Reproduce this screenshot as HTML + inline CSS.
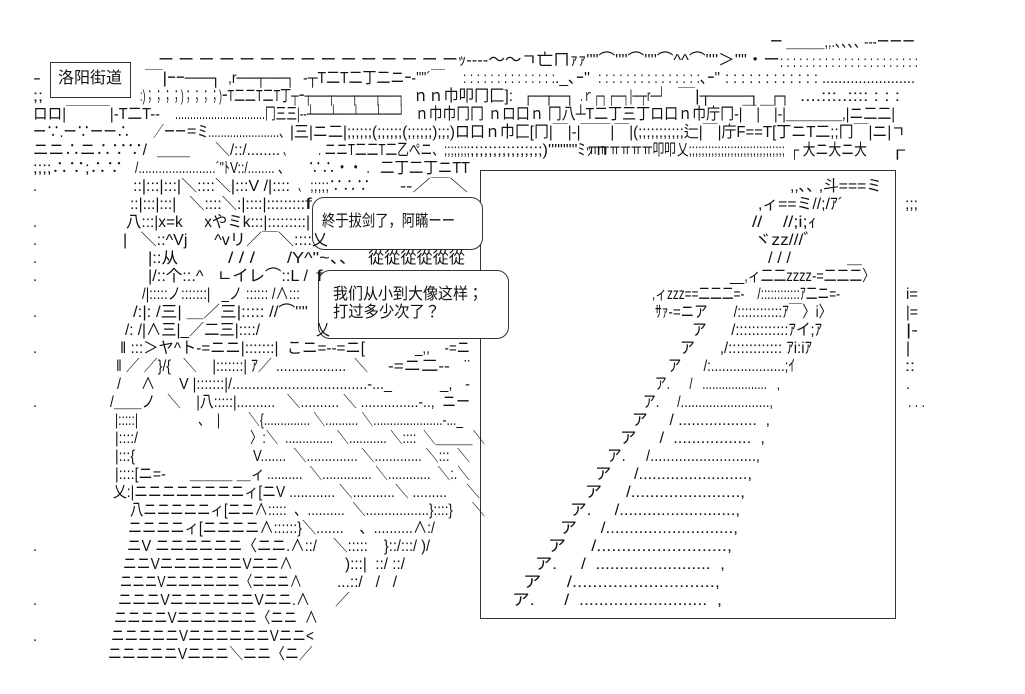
<!DOCTYPE html>
<html><head><meta charset="utf-8">
<style>
html,body{margin:0;padding:0;background:#fff;}
body{width:1025px;height:694px;position:relative;overflow:hidden;}
p{position:absolute;margin:0;height:18px;line-height:18px;font-size:16px;white-space:pre;color:#111;
font-family:"Liberation Sans","Noto Sans CJK JP","Noto Sans CJK SC",sans-serif;}
p span{display:inline-block;transform-origin:0 0;}
.bx{position:absolute;border:1px solid #333;}
</style></head><body>

<div class="bx" style="left:50px;top:62px;width:79px;height:34px;"></div>
<div class="bx" style="left:480px;top:170px;width:414px;height:447px;border-style:solid;"></div>
<div class="bx" style="left:312px;top:197px;width:169px;height:51px;border-radius:12px;background:#fff;"></div>
<div class="bx" style="left:318px;top:270px;width:189px;height:67px;border-radius:12px;background:#fff;"></div>

<p style="left:770px;top:34px;width:145px"><span>ー ＿＿＿,,.､､､､ ---ーーー</span></p>

<p style="left:158px;top:52px;width:300px"><span>ー ー ー ー ー ー ー ー ー ー ー ー ー ー ー</span></p>
<p style="left:458px;top:52px;width:322px"><span>ｯ----～～ㄱ亡ㄇｧｧ''"⌒''''⌒''''⌒^^⌒''''＞''"・ー</span></p>
<p style="left:780px;top:54px;width:138px"><span>: : : : : : : : : : : : : : : : : : : : : :</span></p>

<p style="left:33px;top:70px;width:8px"><span>-</span></p>
<p style="left:58px;top:70px;width:64px"><span>洛阳街道</span></p>
<p style="left:145px;top:70px;width:77px"><span>￣|ｰｰ──┐</span></p>
<p style="left:228px;top:70px;width:67px"><span>,r──┬──┐</span></p>
<p style="left:303px;top:70px;width:142px"><span>-┬T二T二丁二ニｰ-''"´￣</span></p>
<p style="left:463px;top:70px;width:92px"><span>: : : : : : : : : : : : : :</span></p>
<p style="left:555px;top:70px;width:35px"><span>._､ｰ''</span></p>
<p style="left:598px;top:70px;width:102px"><span>: : : : : : : : : : : : : : :</span></p>
<p style="left:700px;top:70px;width:20px"><span>､ｰ''</span></p>
<p style="left:725px;top:70px;width:190px"><span>: : : : : : : : : : : : .......................</span></p>

<p style="left:33px;top:88px;width:10px"><span>;;</span></p>
<p style="left:140px;top:88px;width:82px"><span>:)；；；；)；；；；)</span></p>
<p style="left:222px;top:88px;width:183px"><span>ｰT二二T二T丁┬ｰ┬──┬──┬──┬──┐</span></p>
<p style="left:413px;top:88px;width:100px"><span>ｎｎ巾叩冂匚]:</span></p>
<p style="left:523px;top:88px;width:52px"><span>┌─┬─┐</span></p>
<p style="left:580px;top:88px;width:85px"><span>.ｒ┌┐┌─┐|─┬r─┘</span></p>
<p style="left:678px;top:88px;width:82px"><span>￣|┬───┐</span></p>
<p style="left:770px;top:88px;width:20px"><span>┌┐</span></p>
<p style="left:800px;top:88px;width:100px"><span>....:::..:::: : : :</span></p>

<p style="left:33px;top:106px;width:127px"><span>ロロ|￣￣￣|-T二T--</span></p>
<p style="left:175px;top:106px;width:90px"><span>..............................</span></p>
<p style="left:265px;top:106px;width:140px"><span>冂三三|--┴──┴──┴──┴──┘</span></p>
<p style="left:415px;top:106px;width:55px"><span>ｎ巾巾冂</span></p>
<p style="left:470px;top:106px;width:425px"><span>冂 ｎロ口ｎ 冂八┴T二丁三丁ロ口ｎ巾庁冂-|￣|￣|-|＿＿＿＿,|ニ二二|</span></p>

<p style="left:33px;top:124px;width:97px"><span>ー∵.ー∵ーー∴</span></p>
<p style="left:153px;top:124px;width:137px"><span>／ーー＝ミ.......................、</span></p>
<p style="left:290px;top:124px;width:180px"><span>|三|ニ二|;;;;;;(;;;;;;(;;;;;;);;;)ロ</span></p>
<p style="left:470px;top:124px;width:435px"><span>口ｎ巾匚[冂|￣|-|￣￣|￣|(;;;;;;;;;;;辷|￣|庁F==T[丁ニT二;;冂￣|ニ|ㄱ</span></p>

<p style="left:33px;top:142px;width:114px"><span>ニニ∴ニ∴∵∵/</span></p>
<p style="left:157px;top:142px;width:33px"><span>＿＿＿</span></p>
<p style="left:215px;top:142px;width:65px"><span>＼/::/........</span></p>
<p style="left:283px;top:142px;width:8px"><span>、</span></p>
<p style="left:318px;top:142px;width:152px"><span>. ニニT二二T二乙ぺニ、;;;;;;;;</span></p>
<p style="left:470px;top:142px;width:140px"><span>;;;;;;;;;;;;;;;;)''""""ﾐｯｎ</span></p>
<p style="left:588px;top:142px;width:88px"><span>ㅠㅠㅠㅠㅠㅠ叩叩</span></p>
<p style="left:677px;top:142px;width:108px"><span>乂;;;;;;;;;;;;;;;;;;;;;;;;;;;;;;</span></p>
<p style="left:790px;top:142px;width:77px"><span>┌ 大ニ大ニ大</span></p>
<p style="left:890px;top:142px;width:15px"><span>┌</span></p>

<p style="left:33px;top:160px;width:90px"><span>;;;;∴∵;∴∵</span></p>
<p style="left:135px;top:160px;width:155px"><span>/.......................´"ﾄV::/........ 、</span></p>
<p style="left:308px;top:160px;width:62px"><span>∵∴・・ .</span></p>
<p style="left:380px;top:160px;width:90px"><span>二丁二丁ニTT</span></p>

<p style="left:33px;top:178px;width:4px"><span>.</span></p>
<p style="left:133px;top:178px;width:157px"><span>::|:::|:::|＼::::＼|:::V /|::::</span></p>
<p style="left:298px;top:178px;width:8px"><span>、</span></p>
<p style="left:310px;top:178px;width:60px"><span>;;;;;∵∴∵</span></p>
<p style="left:400px;top:178px;width:68px"><span>--／￣＼</span></p>
<p style="left:790px;top:178px;width:92px"><span>,,､､ ,斗===ミ</span></p>

<p style="left:130px;top:196px;width:175px"><span>::|:::|:::|   ＼::::＼:|::::|:::::::::</span></p>
<p style="left:305px;top:196px;width:7px"><span>f</span></p>
<p style="left:758px;top:196px;width:85px"><span>,ィ==ミ//;/ｱ´</span></p>
<p style="left:905px;top:196px;width:13px"><span>;;;</span></p>

<p style="left:33px;top:214px;width:4px"><span>.</span></p>
<p style="left:126px;top:214px;width:184px"><span>八:::|x=k     xやミk:::|:::::::::|</span></p>
<p style="left:322px;top:213px;width:133px"><span>終于拔剑了，阿瞞ーー</span></p>
<p style="left:752px;top:214px;width:65px"><span>//    //;i;ｨ</span></p>

<p style="left:33px;top:232px;width:4px"><span>.</span></p>
<p style="left:123px;top:232px;width:205px"><span>|   ＼::^Vj      ^vリ／￣＼::::乂</span></p>
<p style="left:754px;top:232px;width:58px"><span>ヾzz///ﾞ</span></p>

<p style="left:33px;top:250px;width:4px"><span>.</span></p>
<p style="left:148px;top:250px;width:30px"><span>|::从</span></p>
<p style="left:228px;top:250px;width:27px"><span>/ / /</span></p>
<p style="left:287px;top:250px;width:70px"><span>/Y^"~、、</span></p>
<p style="left:368px;top:250px;width:97px"><span>從從從從從從</span></p>
<p style="left:768px;top:250px;width:23px"><span>/ / /</span></p>
<p style="left:847px;top:250px;width:15px"><span>＿</span></p>

<p style="left:33px;top:268px;width:4px"><span>.</span></p>
<p style="left:148px;top:268px;width:160px"><span>|/::个::.^   ㄴイレ⌒::L /</span></p>
<p style="left:316px;top:268px;width:7px"><span>f</span></p>
<p style="left:730px;top:268px;width:145px"><span>__,ィ二二zzzz-=二二二〉</span></p>

<p style="left:142px;top:286px;width:158px"><span>/|:::::ノ:::::::|   _ノ :::::: /∧:::</span></p>
<p style="left:333px;top:286px;width:150px"><span>我们从小到大像这样；</span></p>
<p style="left:652px;top:286px;width:188px"><span>,ィzzz==二二二=-    /::::::::::::ｱ二ニ=-</span></p>
<p style="left:906px;top:286px;width:12px"><span>i=</span></p>

<p style="left:33px;top:304px;width:4px"><span>.</span></p>
<p style="left:133px;top:304px;width:175px"><span>/:|: /三| ＿／三|::::: //⌒''''</span></p>
<p style="left:333px;top:304px;width:107px"><span>打过多少次了？</span></p>
<p style="left:655px;top:304px;width:177px"><span>ｻｧ-=ニア       /::::::::::::ｱ￣〉i〉</span></p>
<p style="left:906px;top:304px;width:12px"><span>|=</span></p>

<p style="left:125px;top:322px;width:135px"><span>/: /|∧三|_／二三|::::/</span></p>
<p style="left:316px;top:322px;width:14px"><span>乂</span></p>
<p style="left:692px;top:322px;width:130px"><span>ア      /:::::::::::::ｱイ;ｱ</span></p>
<p style="left:906px;top:322px;width:12px"><span>|-</span></p>

<p style="left:33px;top:340px;width:4px"><span>.</span></p>
<p style="left:120px;top:340px;width:245px"><span>‖ :::＞ヤ^ト-=ニニ|:::::::|  こニ=--=ニ[</span></p>
<p style="left:415px;top:340px;width:55px"><span>_,,    -=ニ</span></p>
<p style="left:680px;top:340px;width:132px"><span>ア      ,/::::::::::::: ｱi:iｱ</span></p>
<p style="left:906px;top:340px;width:4px"><span>|</span></p>

<p style="left:116px;top:358px;width:252px"><span>‖ ／ ／}/{   ＼    |:::::::| ｱ／ ..................  ＼</span></p>
<p style="left:388px;top:358px;width:82px"><span>-=ニ二--   ¨</span></p>
<p style="left:668px;top:358px;width:127px"><span>ア      /:....................;ｲ</span></p>
<p style="left:905px;top:358px;width:10px"><span>::</span></p>

<p style="left:117px;top:376px;width:275px"><span>/     ∧      V |:::::::|/..................................-..._</span></p>
<p style="left:440px;top:376px;width:30px"><span>_,   -</span></p>
<p style="left:655px;top:376px;width:125px"><span>ア.      /   ....................   ,</span></p>
<p style="left:906px;top:376px;width:4px"><span>.</span></p>

<p style="left:33px;top:394px;width:4px"><span>.</span></p>
<p style="left:110px;top:394px;width:360px"><span>/＿＿ノ   ＼    |八:::::|..........   ＼.......... ＼ ...............-..,  ニー</span></p>
<p style="left:643px;top:394px;width:130px"><span>ア.     /.........................,</span></p>
<p style="left:908px;top:394px;width:17px"><span>. . .</span></p>

<p style="left:115px;top:412px;width:23px"><span>|:::::|</span></p>
<p style="left:198px;top:412px;width:22px"><span>、  |</span></p>
<p style="left:248px;top:412px;width:215px"><span>＼{.............. ＼.......... ＼.....................-..._</span></p>
<p style="left:632px;top:412px;width:138px"><span>ア     / ..................  ,</span></p>

<p style="left:115px;top:430px;width:23px"><span>|::::/</span></p>
<p style="left:250px;top:430px;width:235px"><span>〉:＼  .............. ＼........... ＼::::  ＼＿＿＿＼</span></p>
<p style="left:620px;top:430px;width:145px"><span>ア     /  .................  ,</span></p>

<p style="left:115px;top:448px;width:20px"><span>|:::{</span></p>
<p style="left:253px;top:448px;width:217px"><span>V.......  ＼.............. ＼............. ＼:::  ＼</span></p>
<p style="left:607px;top:448px;width:153px"><span>ア.     /..........................,</span></p>

<p style="left:115px;top:466px;width:150px"><span>|::::[ニ=-      ＿＿＿ ＿ィ</span></p>
<p style="left:267px;top:466px;width:203px"><span>..........  ＼.............. ＼............  ＼:.＼</span></p>
<p style="left:595px;top:466px;width:157px"><span>ア     /........................,</span></p>

<p style="left:113px;top:484px;width:367px"><span>乂:|ニニニニニニニニィ[ニV ............ ＼...........＼ .........     ＼</span></p>
<p style="left:585px;top:484px;width:160px"><span>ア     /.......................,</span></p>

<p style="left:130px;top:502px;width:355px"><span>八ニニニニニィ[ニニ∧:::::  、..........  ＼.................}::::}     ＼</span></p>
<p style="left:570px;top:502px;width:170px"><span>ア.     /.........................,</span></p>

<p style="left:128px;top:520px;width:307px"><span>ニニニニィ[ニニニニ∧::::::}＼.......    、..........∧:/</span></p>
<p style="left:560px;top:520px;width:178px"><span>ア     /...........................,</span></p>

<p style="left:33px;top:538px;width:4px"><span>.</span></p>
<p style="left:127px;top:538px;width:303px"><span>ニV ニニニニニニ〈ニニ.∧::/    ＼:::::    }::/:::/ )/</span></p>
<p style="left:548px;top:538px;width:184px"><span>ア     /..........................,</span></p>

<p style="left:123px;top:556px;width:170px"><span>ニニVニニニニニニVニニ∧</span></p>
<p style="left:345px;top:556px;width:60px"><span>):::|  ::/ ::/</span></p>
<p style="left:535px;top:556px;width:190px"><span>ア.     /  ........................  ,</span></p>

<p style="left:120px;top:574px;width:182px"><span>ニニニVニニニニニニ〈ニニニ∧</span></p>
<p style="left:337px;top:574px;width:60px"><span>...::/   /   /</span></p>
<p style="left:523px;top:574px;width:197px"><span>ア     /............................,</span></p>

<p style="left:33px;top:592px;width:4px"><span>.</span></p>
<p style="left:118px;top:592px;width:192px"><span>ニニニVニニニニニニVニニ.∧</span></p>
<p style="left:335px;top:592px;width:15px"><span>／</span></p>
<p style="left:512px;top:592px;width:210px"><span>ア.      /  ..........................  ,</span></p>

<p style="left:114px;top:610px;width:204px"><span>ニニニニVニニニニニニ〈ニニ  ∧</span></p>

<p style="left:33px;top:628px;width:4px"><span>.</span></p>
<p style="left:111px;top:628px;width:203px"><span>ニニニニニVニニニニニニVニニ&lt;</span></p>

<p style="left:108px;top:646px;width:205px"><span>ニニニニニVニニニ＼ニニ〈ニ／</span></p>

<script>
(function(){
  var ps=document.querySelectorAll('p');
  for(var i=0;i<ps.length;i++){
    var p=ps[i],s=p.firstElementChild;if(!s)continue;
    var tw=parseFloat(p.style.width),aw=s.getBoundingClientRect().width;
    if(aw>0&&tw>0){s.style.transform='scaleX('+(tw/aw)+')';}
  }
})();
</script>
</body></html>
